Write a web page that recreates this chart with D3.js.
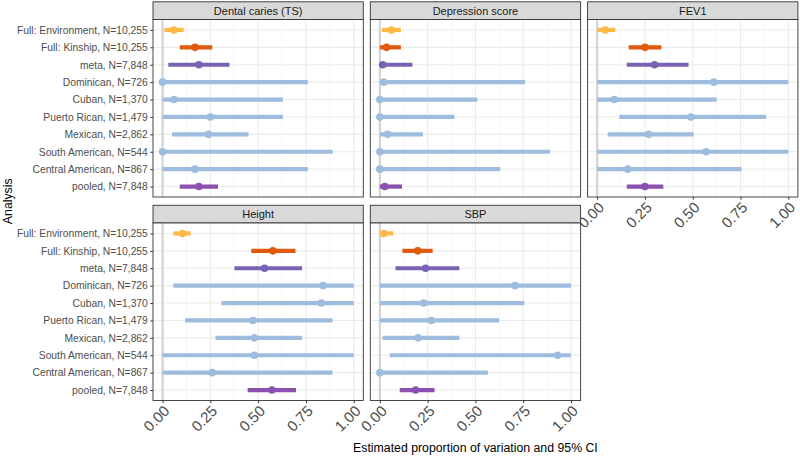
<!DOCTYPE html>
<html>
<head>
<meta charset="utf-8">
<script src="https://cdn.jsdelivr.net/npm/d3@7"></script>
<style>
  body { margin: 0; background: #fff; }
  text { font-family: "Liberation Sans", Arial, sans-serif; }
</style>
</head>
<body>
<svg id="chart" width="800" height="457"></svg>
<script>
// analyses, top to bottom
const analyses = [
  "Full: Environment, N=10,255",
  "Full: Kinship, N=10,255",
  "meta, N=7,848",
  "Dominican, N=726",
  "Cuban, N=1,370",
  "Puerto Rican, N=1,479",
  "Mexican, N=2,862",
  "South American, N=544",
  "Central American, N=867",
  "pooled, N=7,848"
];
const groups = ["env", "kin", "meta", "anc", "anc", "anc", "anc", "anc", "anc", "pooled"];

const traits = ["Dental caries (TS)", "Depression score", "FEV1", "Height", "SBP"];

// estimate, lower and upper CI per trait (same order as analyses)
const dentalEst = [0.06, 0.17, 0.19, 0.00, 0.06, 0.25, 0.24, 0.00, 0.17, 0.19];
const dentalLo  = [0.01, 0.09, 0.03, 0.00, 0.00, 0.00, 0.05, 0.00, 0.00, 0.09];
const dentalHi  = [0.11, 0.26, 0.35, 0.76, 0.63, 0.63, 0.45, 0.89, 0.76, 0.29];

const deprEst = [0.06, 0.035, 0.015, 0.02, 0.00, 0.00, 0.04, 0.00, 0.00, 0.026];
const deprLo  = [0.01, 0.00, 0.00, 0.00, 0.00, 0.00, 0.00, 0.00, 0.00, 0.00];
const deprHi  = [0.11, 0.11, 0.17, 0.76, 0.51, 0.39, 0.225, 0.89, 0.63, 0.116];

const fevEst = [0.043, 0.25, 0.30, 0.61, 0.09, 0.49, 0.27, 0.57, 0.16, 0.25];
const fevLo  = [0.00, 0.165, 0.155, 0.00, 0.00, 0.116, 0.055, 0.00, 0.00, 0.155];
const fevHi  = [0.095, 0.336, 0.478, 1.00, 0.626, 0.884, 0.505, 1.00, 0.755, 0.346];

const heightEst = [0.104, 0.577, 0.534, 0.84, 0.83, 0.473, 0.48, 0.48, 0.26, 0.572];
const heightLo  = [0.057, 0.464, 0.376, 0.057, 0.308, 0.118, 0.277, 0.00, 0.00, 0.445];
const heightHi  = [0.147, 0.695, 0.73, 1.00, 1.00, 0.889, 0.73, 1.00, 0.889, 0.698];

const sbpEst = [0.02, 0.198, 0.239, 0.707, 0.229, 0.269, 0.20, 0.93, 0.00, 0.187];
const sbpLo  = [0.00, 0.118, 0.082, 0.00, 0.00, 0.00, 0.014, 0.052, 0.00, 0.104];
const sbpHi  = [0.07, 0.276, 0.416, 1.00, 0.756, 0.624, 0.416, 1.00, 0.565, 0.286];

const xTicks = [0, 0.25, 0.5, 0.75, 1];
const xMinor = [0.125, 0.375, 0.625, 0.875];

const colors = {
  env: "#FDB845",
  kin: "#E05A0C",
  meta: "#7A62B2",
  anc: "#9DBCDE",
  pooled: "#8C50B0"
};

const traitData = [
  [dentalEst, dentalLo, dentalHi],
  [deprEst, deprLo, deprHi],
  [fevEst, fevLo, fevHi],
  [heightEst, heightLo, heightHi],
  [sbpEst, sbpLo, sbpHi]
];

// layout
const panelW = 210.3, panelH = 177.5, gapX = 7, stripH = 17.7;
const left0 = 153;
const rowTop = [19.5, 223];   // panel tops (below strip)

const svg = d3.select("#chart");

const x = d3.scaleLinear().domain([-0.05, 1.05]).range([0, panelW]);
const y = d3.scalePoint().domain(analyses).range([0, panelH]).padding(0.6);

traits.forEach(function (trait, i) {
  let col = i % 3, row = Math.floor(i / 3);
  let px = left0 + col * (panelW + gapX);
  let py = rowTop[row];
  let [est, lo, hi] = traitData[i];

  // strip
  let strip = svg.append("g").attr("transform", `translate(${px},${py - stripH})`);
  strip.append("rect")
    .attr("width", panelW).attr("height", stripH)
    .attr("fill", "#d9d9d9").attr("stroke", "#333").attr("stroke-width", 0.9);
  strip.append("text")
    .attr("x", panelW / 2).attr("y", stripH / 2 + 4)
    .attr("text-anchor", "middle")
    .attr("font-size", 11).attr("fill", "#1a1a1a")
    .text(trait);

  let g = svg.append("g").attr("transform", `translate(${px},${py})`);
  g.append("rect").attr("width", panelW).attr("height", panelH).attr("fill", "#fff");

  // grid
  g.selectAll(".minor").data(xMinor).join("line")
    .attr("x1", d => x(d)).attr("x2", d => x(d))
    .attr("y1", 0).attr("y2", panelH)
    .attr("stroke", "#f2f2f2").attr("stroke-width", 0.6);
  g.selectAll(".major").data(xTicks).join("line")
    .attr("x1", d => x(d)).attr("x2", d => x(d))
    .attr("y1", 0).attr("y2", panelH)
    .attr("stroke", "#ebebeb").attr("stroke-width", 1.1);
  g.selectAll(".hgrid").data(analyses).join("line")
    .attr("x1", 0).attr("x2", panelW)
    .attr("y1", d => y(d)).attr("y2", d => y(d))
    .attr("stroke", "#ebebeb").attr("stroke-width", 1.1);

  // zero reference line
  g.append("line")
    .attr("x1", x(0)).attr("x2", x(0)).attr("y1", 0).attr("y2", panelH)
    .attr("stroke", "#d4d4d4").attr("stroke-width", 2.2);

  // CI ranges and estimates
  analyses.forEach(function (a, k) {
    let c = colors[groups[k]];
    g.append("line")
      .attr("x1", x(lo[k])).attr("x2", x(hi[k]))
      .attr("y1", y(a)).attr("y2", y(a))
      .attr("stroke", c).attr("stroke-width", 4.2);
    g.append("circle")
      .attr("cx", x(est[k])).attr("cy", y(a)).attr("r", 3.8)
      .attr("fill", c);
  });

  g.append("rect").attr("width", panelW).attr("height", panelH)
    .attr("fill", "none").attr("stroke", "#333").attr("stroke-width", 0.9);

  // y axis on first column
  if (col === 0) {
    let ya = g.append("g").call(d3.axisLeft(y).tickSize(2.7).tickPadding(2.5));
    ya.select(".domain").remove();
    ya.selectAll("line").attr("stroke", "#333");
    ya.selectAll("text").attr("font-size", 10.3).attr("fill", "#4d4d4d")
      .attr("font-family", "'Liberation Sans', Arial, sans-serif");
  }

  // x axis where no panel below
  if (row === 1 || col === 2) {
    let xa = g.append("g").attr("transform", `translate(0,${panelH})`)
      .call(d3.axisBottom(x).tickValues(xTicks).tickFormat(d3.format(".2f")).tickSize(2.7));
    xa.select(".domain").remove();
    xa.selectAll("line").attr("stroke", "#333");
    xa.selectAll("text")
      .attr("font-size", 15).attr("fill", "#4d4d4d")
      .attr("font-family", "'Liberation Sans', Arial, sans-serif")
      .attr("text-anchor", "end")
      .attr("y", 0).attr("dy", 0)
      .attr("transform", "translate(0,4) rotate(-45) translate(0,10.5)");
  }
});

// axis titles
svg.append("text")
  .attr("x", left0 + (3 * panelW + 2 * gapX) / 2).attr("y", 452)
  .attr("text-anchor", "middle").attr("font-size", 12.3).attr("fill", "#000")
  .text("Estimated proportion of variation and 95% CI");

svg.append("text")
  .attr("transform", `translate(12,${(2 + 400.5) / 2}) rotate(-90)`)
  .attr("text-anchor", "middle").attr("font-size", 12.3).attr("fill", "#000")
  .text("Analysis");
</script>
</body>
</html>
